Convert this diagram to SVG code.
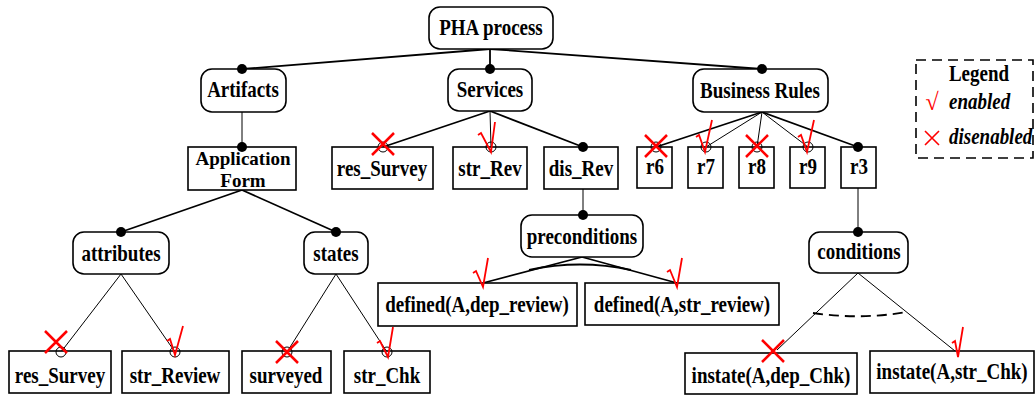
<svg xmlns="http://www.w3.org/2000/svg" width="1036" height="396" viewBox="0 0 1036 396">
<style>
.rn{fill:#fff;stroke:#000;stroke-width:1.6}
.bx{fill:#fff;stroke:#000;stroke-width:1.6}
.t{font-family:"Liberation Serif","Times New Roman",serif;font-weight:bold;font-size:19px;text-anchor:middle;fill:#000;transform-box:fill-box;transform-origin:center;transform:scaleY(1.2)}
.t2{font-family:"Liberation Serif","Times New Roman",serif;font-weight:bold;font-size:19px;text-anchor:middle;fill:#000}
.li{font-family:"Liberation Serif","Times New Roman",serif;font-weight:bold;font-style:italic;font-size:19px;fill:#000;transform-box:fill-box;transform-origin:center;transform:scaleY(1.2)}
.c1{stroke:#000;stroke-width:1.8;fill:none}
.c2{stroke:#000;stroke-width:1;fill:none}
.dot{fill:#000}
.oc{fill:none;stroke:#000;stroke-width:1}
.x{stroke:#f00;stroke-width:2.5;fill:none}
.ck{stroke:#f00;stroke-width:1.8;fill:none;stroke-linejoin:miter}
</style>
<g id="connectors">
<line class="c1" x1="490" y1="49" x2="242" y2="69"/>
<line class="c1" x1="490" y1="49" x2="490" y2="69"/>
<line class="c1" x1="490" y1="49" x2="762" y2="69"/>
<line class="c2" x1="242" y1="112" x2="242" y2="147"/>
<line class="c1" x1="242" y1="190" x2="121" y2="232"/>
<line class="c1" x1="242" y1="190" x2="336" y2="232"/>
<line class="c2" x1="121" y1="274" x2="61" y2="352"/>
<line class="c2" x1="121" y1="274" x2="175" y2="352"/>
<line class="c2" x1="336" y1="274" x2="287" y2="352"/>
<line class="c2" x1="336" y1="274" x2="387" y2="352"/>
<line class="c1" x1="490" y1="111" x2="383" y2="147"/>
<line class="c2" x1="490" y1="111" x2="491" y2="147"/>
<line class="c1" x1="490" y1="111" x2="583" y2="147"/>
<line class="c2" x1="583" y1="189" x2="583" y2="215"/>
<line class="c1" x1="582" y1="257" x2="483" y2="283"/>
<line class="c1" x1="582" y1="257" x2="677" y2="283"/>
<path class="c1" d="M529,270 Q580,259 631,270"/>
<line class="c1" x1="762" y1="112" x2="656" y2="147"/>
<line class="c2" x1="762" y1="112" x2="706" y2="147"/>
<line class="c2" x1="762" y1="112" x2="757" y2="147"/>
<line class="c2" x1="762" y1="112" x2="808" y2="147"/>
<line class="c1" x1="762" y1="112" x2="858" y2="147"/>
<line class="c2" x1="858" y1="188" x2="858" y2="232"/>
<line class="c2" x1="858" y1="273" x2="777" y2="350"/>
<line class="c2" x1="858" y1="273" x2="955" y2="351"/>
<path class="c1" d="M813,313 Q860,320 907,312" stroke-dasharray="10,6"/>
</g>
<g id="n-pha"><rect class="rn" x="429" y="7" width="124" height="42" rx="11"/><text class="t" x="491" y="34">PHA process</text></g>
<g id="n-artifacts"><rect class="rn" x="201" y="69" width="85" height="43" rx="11"/><text class="t" x="243" y="96">Artifacts</text><circle class="dot" cx="242" cy="69" r="5"/></g>
<g id="n-services"><rect class="rn" x="448" y="69" width="84" height="42" rx="11"/><text class="t" x="490" y="96">Services</text><circle class="dot" cx="490" cy="69" r="5"/></g>
<g id="n-br"><rect class="rn" x="693" y="69" width="135" height="43" rx="11"/><text class="t" x="760" y="97">Business Rules</text><circle class="dot" cx="762" cy="69" r="5"/></g>
<g id="n-appform"><rect class="bx" x="188" y="147" width="108" height="43"/><text class="t2" x="243" y="165">Application</text><text class="t2" x="243" y="187">Form</text><circle class="dot" cx="242" cy="147" r="5"/></g>
<g id="n-attributes"><rect class="rn" x="73" y="232" width="96" height="42" rx="11"/><text class="t" x="121" y="260">attributes</text><circle class="dot" cx="121" cy="232" r="5"/></g>
<g id="n-states"><rect class="rn" x="304" y="232" width="64" height="42" rx="11"/><text class="t" x="336" y="260">states</text><circle class="dot" cx="336" cy="232" r="5"/></g>
<g id="n-res-survey-a"><rect class="bx" x="9" y="351" width="102" height="42"/><text class="t" x="60" y="382">res_Survey</text><circle class="oc" cx="61" cy="352" r="5"/></g>
<g id="n-str-review"><rect class="bx" x="122" y="351" width="107" height="42"/><text class="t" x="175" y="382">str_Review</text><circle class="oc" cx="175" cy="352" r="5"/></g>
<g id="n-surveyed"><rect class="bx" x="242" y="351" width="89" height="42"/><text class="t" x="286" y="382">surveyed</text><circle class="oc" cx="287" cy="352" r="5"/></g>
<g id="n-str-chk"><rect class="bx" x="344" y="351" width="86" height="42"/><text class="t" x="387" y="382">str_Chk</text><circle class="oc" cx="387" cy="352" r="5"/></g>
<g id="n-res-survey-s"><rect class="bx" x="332" y="147" width="101" height="42"/><text class="t" x="382" y="175">res_Survey</text><circle class="oc" cx="383" cy="147" r="5"/></g>
<g id="n-str-rev"><rect class="bx" x="453" y="147" width="74" height="42"/><text class="t" x="490" y="175">str_Rev</text><circle class="oc" cx="491" cy="147" r="5"/></g>
<g id="n-dis-rev"><rect class="bx" x="544" y="147" width="74" height="42"/><text class="t" x="581" y="175">dis_Rev</text><circle class="dot" cx="583" cy="147" r="5"/></g>
<g id="n-preconditions"><rect class="rn" x="521" y="215" width="122" height="42" rx="11"/><text class="t" x="582" y="243">preconditions</text><circle class="dot" cx="583" cy="215" r="5"/></g>
<g id="n-def-dep"><rect class="bx" x="378" y="283" width="199" height="43"/><text class="t" x="477" y="311">defined(A,dep_review)</text></g>
<g id="n-def-str"><rect class="bx" x="585" y="283" width="194" height="42"/><text class="t" x="682" y="311">defined(A,str_review)</text></g>
<g id="n-r6"><rect class="bx" x="637" y="147" width="35" height="41"/><text class="t" x="655" y="173">r6</text><circle class="oc" cx="656" cy="147" r="5"/></g>
<g id="n-r7"><rect class="bx" x="688" y="147" width="35" height="41"/><text class="t" x="706" y="173">r7</text><circle class="oc" cx="706" cy="147" r="5"/></g>
<g id="n-r8"><rect class="bx" x="739" y="147" width="35" height="41"/><text class="t" x="757" y="173">r8</text><circle class="oc" cx="757" cy="147" r="5"/></g>
<g id="n-r9"><rect class="bx" x="790" y="147" width="35" height="41"/><text class="t" x="808" y="173">r9</text><circle class="oc" cx="808" cy="147" r="5"/></g>
<g id="n-r3"><rect class="bx" x="841" y="147" width="35" height="41"/><text class="t" x="859" y="173">r3</text><circle class="dot" cx="858" cy="147" r="5"/></g>
<g id="n-conditions"><rect class="rn" x="809" y="232" width="99" height="41" rx="11"/><text class="t" x="859" y="258">conditions</text><circle class="dot" cx="858" cy="232" r="5"/></g>
<g id="n-instate-dep"><rect class="bx" x="685" y="353" width="172" height="41"/><text class="t" x="771" y="382">instate(A,dep_Chk)</text></g>
<g id="n-instate-str"><rect class="bx" x="870" y="351" width="164" height="42"/><text class="t" x="952" y="378">instate(A,str_Chk)</text></g>
<g id="marks">
<path class="x" d="M45,331 L67,353 M67,331 L45,353"/>
<path class="x" d="M276,341 L298,363 M298,341 L276,363"/>
<path class="x" d="M372,133 L394,155 M394,133 L372,155"/>
<path class="x" d="M645,135 L667,157 M667,135 L645,157"/>
<path class="x" d="M746,135 L768,157 M768,135 L746,157"/>
<path class="x" d="M762,340 L784,362 M784,340 L762,362"/>
<path class="ck" d="M167,341 L170,339 L175,355 L183,326"/>
<path class="ck" d="M377,343 L380,341 L388,357 L393,327"/>
<path class="ck" d="M478,135 L481,133 L491,152 L495,122"/>
<path class="ck" d="M696,137 L699,135 L705,152 L712,120"/>
<path class="ck" d="M798,137 L801,135 L807,152 L814,120"/>
<path class="ck" d="M473,273 L476,271 L483,287 L488,258"/>
<path class="ck" d="M667,272 L670,270 L677,287 L682,258"/>
<path class="ck" d="M952,343 L955,341 L958,357 L963,327"/>
</g>
<g id="legend">
<rect x="916" y="60" width="117" height="98" fill="none" stroke="#000" stroke-width="1.6" stroke-dasharray="10,6"/>
<text class="t" x="979" y="80">Legend</text>
<text x="932" y="110" font-family="Liberation Serif, serif" font-size="24" fill="#f00" text-anchor="middle">√</text>
<text class="li" x="949" y="108">enabled</text>
<path d="M925,131 L939,145 M939,131 L925,145" stroke="#f00" stroke-width="1.6"/>
<text class="li" x="949" y="143">disenabled</text>
</g>
</svg>
